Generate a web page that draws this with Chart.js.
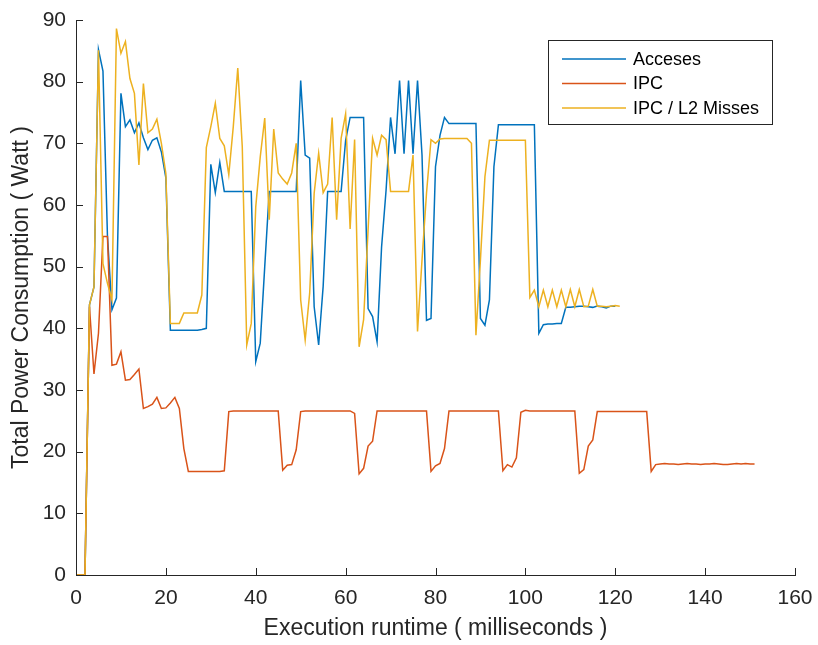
<!DOCTYPE html>
<html>
<head>
<meta charset="utf-8">
<script src="https://cdn.jsdelivr.net/npm/chart.js@4.4.1/dist/chart.umd.min.js"></script>
<style>
  html, body { margin: 0; padding: 0; background: #fff; }
  #wrap { width: 818px; height: 645px; }
</style>
</head>
<body>
<div id="wrap"><canvas id="power-chart" width="818" height="645"></canvas></div>
<script>
// one sample per millisecond, starting at 0 ms
const acceses = [
  0, 0, 0, 43.8, 46.7, 85.2, 81.7, 55, 43.0, 44.9,
  78.1, 72.7, 73.8, 71.7, 73.3, 70.9, 69.0, 70.5, 70.9, 68.6,
  64.4, 39.7, 39.7, 39.7, 39.7, 39.7, 39.7, 39.7, 39.8, 40.0,
  66.6, 62.0, 66.9, 62.2, 62.2, 62.2, 62.2, 62.2, 62.2, 62.2,
  34.6, 37.6, 50.0, 62.2, 62.2, 62.2, 62.2, 62.2, 62.2, 62.2,
  80.2, 68.1, 67.6, 43.5, 37.3, 46.8, 62.2, 62.2, 62.2, 62.2,
  70.5, 74.2, 74.2, 74.2, 74.2, 43.2, 41.9, 37.8, 53.2, 62.4,
  74.2, 68.3, 80.2, 68.3, 80.2, 68.3, 80.2, 68.1, 41.3, 41.6,
  66.2, 71.3, 74.2, 73.2, 73.2, 73.2, 73.2, 73.2, 73.2, 73.2,
  41.6, 40.5, 44.6, 66.2, 73.0, 73.0, 73.0, 73.0, 73.0, 73.0,
  73.0, 73.0, 73.0, 39.2, 40.6, 40.7, 40.7, 40.8, 40.8, 43.4,
  43.4, 43.5, 43.6, 43.6, 43.5, 43.4, 43.6, 43.5, 43.3, 43.6,
  43.6
];

const ipc = [
  0, 0, 0, 43.5, 32.6, 39.2, 54.9, 54.9, 34.0, 34.2,
  36.2, 31.6, 31.7, 32.5, 33.4, 27.0, 27.3, 27.7, 28.8, 27.0,
  27.1, 27.9, 28.8, 27.0, 20.5, 16.8, 16.8, 16.8, 16.8, 16.8,
  16.8, 16.8, 16.8, 16.9, 26.5, 26.6, 26.6, 26.6, 26.6, 26.6,
  26.6, 26.6, 26.6, 26.6, 26.6, 26.6, 17.0, 17.8, 17.9, 20.3,
  26.5, 26.6, 26.6, 26.6, 26.6, 26.6, 26.6, 26.6, 26.6, 26.6,
  26.6, 26.6, 26.2, 16.4, 17.3, 20.9, 21.7, 26.6, 26.6, 26.6,
  26.6, 26.6, 26.6, 26.6, 26.6, 26.6, 26.6, 26.6, 26.6, 16.8,
  17.7, 18.1, 20.5, 26.6, 26.6, 26.6, 26.6, 26.6, 26.6, 26.6,
  26.6, 26.6, 26.6, 26.6, 26.6, 16.9, 17.9, 17.5, 19.0, 26.4,
  26.7, 26.6, 26.6, 26.6, 26.6, 26.6, 26.6, 26.6, 26.6, 26.6,
  26.6, 26.6, 16.5, 17.1, 20.9, 21.9, 26.5, 26.5, 26.5, 26.5,
  26.5, 26.5, 26.5, 26.5, 26.5, 26.5, 26.5, 26.5, 16.8, 17.9,
  18.0, 18.1, 18.0, 18.0, 17.9, 18.0, 18.1, 18.0, 18.0, 17.9,
  18.0, 18.0, 18.1, 18.0, 17.9, 17.9, 18.0, 18.1, 18.0, 18.1,
  18.0, 18.0
];

const ipcPerL2Miss = [
  0, 0, 0, 43.8, 46.7, 85.1, 50.5, 47.3, 44.6, 88.6,
  84.6, 86.5, 80.5, 78.1, 66.5, 79.7, 71.7, 72.3, 73.9, 70.0,
  65.1, 40.8, 40.8, 40.8, 42.5, 42.5, 42.5, 42.5, 45.4, 69.3,
  72.7, 76.5, 70.8, 69.6, 64.9, 72.7, 82.2, 69.5, 37.3, 40.8,
  59.7, 67.8, 74.1, 57.6, 72.3, 65.2, 64.2, 63.4, 65.2, 70.0,
  44.6, 38.1, 45.7, 61.9, 68.4, 62.0, 63.4, 74.2, 57.6, 70.8,
  74.8, 56.1, 70.6, 37.0, 41.4, 56.0, 70.8, 68.1, 71.3, 70.6,
  62.2, 62.2, 62.2, 62.2, 62.2, 68.1, 39.5, 51.1, 61.9, 70.6,
  70.0, 70.7, 70.8, 70.8, 70.8, 70.8, 70.8, 70.8, 70.0, 38.9,
  51.1, 64.6, 70.5, 70.5, 70.5, 70.5, 70.5, 70.5, 70.5, 70.5,
  70.5, 45.0, 46.2, 43.5, 46.2, 43.5, 46.2, 43.5, 46.2, 43.5,
  46.3, 43.5, 46.3, 43.5, 43.6, 46.3, 43.6, 43.6, 43.5, 43.6,
  43.7, 43.6
];

const seriesNames = ['Acceses', 'IPC', 'IPC / L2 Misses'];
const seriesColors = ['#0072BD', '#D95319', '#EDB120'];

const axisColor = '#262626';
const fontFamily = '"Liberation Sans", Arial, Helvetica, sans-serif';

// sample index is the runtime in ms
const toPoints = vals => vals.map((v, i) => ({ x: i, y: v }));

// MATLAB style: ticks pointing inwards + boxed legend in the top right
const matlabDecor = {
  id: 'matlabDecor',
  afterDraw(chart) {
    const { ctx, chartArea, scales } = chart;
    const xs = scales.x, ys = scales.y;
    ctx.save();
    ctx.strokeStyle = axisColor;
    ctx.lineWidth = 1;
    ctx.beginPath();
    xs.ticks.forEach(t => {
      const px = Math.round(xs.getPixelForValue(t.value)) + 0.5;
      ctx.moveTo(px, chartArea.bottom);
      ctx.lineTo(px, chartArea.bottom - 7);
    });
    ys.ticks.forEach(t => {
      const py = Math.round(ys.getPixelForValue(t.value)) + 0.5;
      ctx.moveTo(chartArea.left, py);
      ctx.lineTo(chartArea.left + 7, py);
    });
    ctx.stroke();

    // legend box
    const bx = 548.5, by = 40.5, bw = 224, bh = 84;
    ctx.fillStyle = '#fff';
    ctx.fillRect(bx, by, bw, bh);
    ctx.strokeStyle = axisColor;
    ctx.strokeRect(bx, by, bw, bh);
    ctx.font = '18px ' + fontFamily;
    ctx.textBaseline = 'middle';
    ctx.textAlign = 'left';
    chart.data.datasets.forEach((ds, i) => {
      const ry = 59 + i * 24.5;
      ctx.strokeStyle = ds.borderColor;
      ctx.lineWidth = 1.5;
      ctx.beginPath();
      ctx.moveTo(562, ry);
      ctx.lineTo(626, ry);
      ctx.stroke();
      ctx.fillStyle = '#000';
      ctx.fillText(ds.label, 633, ry + 1);
    });
    ctx.restore();
  }
};

const datasets = [acceses, ipc, ipcPerL2Miss].map((vals, i) => ({
  label: seriesNames[i],
  data: toPoints(vals),
  borderColor: seriesColors[i],
  backgroundColor: seriesColors[i],
  borderWidth: 1.5,
  pointRadius: 0,
  tension: 0,
  fill: false,
  order: 3 - i   // later series drawn on top, like MATLAB
}));

new Chart(document.getElementById('power-chart'), {
  type: 'line',
  data: { datasets },
  plugins: [matlabDecor],
  options: {
    responsive: false,
    animation: false,
    layout: { padding: { top: 20, right: 23, left: 0, bottom: 0 } },
    plugins: {
      legend: { display: false },
      tooltip: { enabled: false }
    },
    scales: {
      x: {
        type: 'linear',
        min: 0,
        max: 160,
        afterFit(scale) {
          scale.height = 70;
          scale.paddingLeft = 0;
          scale.paddingRight = 0;
        },
        ticks: {
          stepSize: 20,
          color: axisColor,
          padding: 11,
          maxRotation: 0,
          font: { family: fontFamily, size: 21 }
        },
        grid: { drawOnChartArea: false, drawTicks: false },
        border: { display: true, color: axisColor, width: 1 },
        title: {
          display: true,
          text: 'Execution runtime ( milliseconds )',
          color: axisColor,
          padding: { top: 0, bottom: 3 },
          font: { family: fontFamily, size: 23 }
        }
      },
      y: {
        min: 0,
        max: 90,
        afterFit(scale) {
          scale.width = 76;
          scale.paddingTop = 0;
          scale.paddingBottom = 0;
        },
        ticks: {
          stepSize: 10,
          color: axisColor,
          padding: 10,
          font: { family: fontFamily, size: 21 }
        },
        grid: { drawOnChartArea: false, drawTicks: false },
        border: { display: true, color: axisColor, width: 1 },
        title: {
          display: true,
          text: 'Total Power Consumption ( Watt )',
          color: axisColor,
          padding: { top: 8, bottom: 0 },
          font: { family: fontFamily, size: 23 }
        }
      }
    }
  }
});
</script>
</body>
</html>
